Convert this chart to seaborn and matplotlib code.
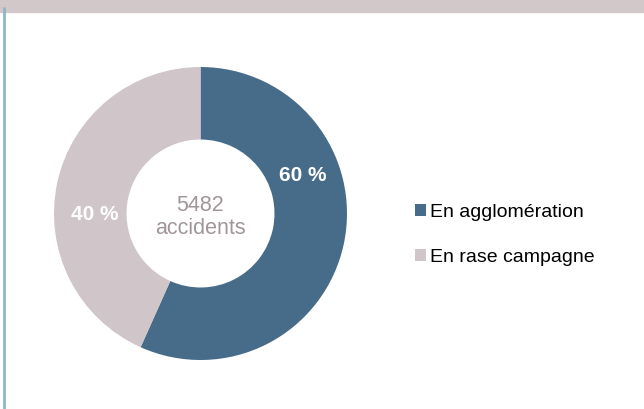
import matplotlib
matplotlib.use("Agg")
import matplotlib.pyplot as plt
import seaborn as sns
from matplotlib.patches import Patch, Rectangle
from matplotlib.lines import Line2D

# data
categories = ["En agglomération", "En rase campagne"]
shares = [56.7, 43.3]          # slice sizes
pct_labels = ["60 %", "40 %"]  # labels as printed on the chart
total_accidents = 5482

sns.set_theme(style="white")
plt.rcParams['font.family'] = ['Liberation Sans', 'DejaVu Sans']

colors = ["#476c8a", "#d0c5c8"]

W, H = 644, 409
fig = plt.figure(figsize=(W / 100, H / 100), dpi=100)
fig.patch.set_facecolor("white")

# top band and left rule
fig.patches.append(Rectangle((0, 1 - 12 / H), 1, 12 / H, transform=fig.transFigure,
                             color="#d2c7c9", zorder=0))
fig.lines.append(Line2D([4 / W, 4 / W], [0, 1 - 8 / H], transform=fig.transFigure,
                        color="#8fb5c8", lw=2))

# donut axes
ax = fig.add_axes([54 / W, 49 / H, 293 / W, 293 / H])
wedges, _ = ax.pie(shares, colors=colors, startangle=90, counterclock=False,
                   radius=1, wedgeprops=dict(width=0.495, edgecolor="none"))
ax.set_xlim(-1, 1)
ax.set_ylim(-1, 1)
ax.set_aspect("equal")
ax.axis("off")

# percent labels
ax.text(0.70, 0.26, pct_labels[0], color="white", fontsize=15, fontweight="bold",
        ha="center", va="center")
ax.text(-0.72, -0.01, pct_labels[1], color="white", fontsize=15, fontweight="bold",
        ha="center", va="center")

# centre text
ax.text(0, 0.055, str(total_accidents), color="#a09699", fontsize=15.5,
        ha="center", va="center")
ax.text(0, -0.10, "accidents", color="#a09699", fontsize=15.5,
        ha="center", va="center")

# legend
handles = [Patch(facecolor=c, edgecolor="none") for c in colors]
fig.legend(handles, categories, loc="center left", bbox_to_anchor=(397 / W, 1 - 235 / H),
           frameon=False, fontsize=14, handlelength=0.6, handleheight=0.6,
           handletextpad=0.2, labelspacing=1.45, labelcolor="black")

fig.savefig("out.png", dpi=100)
